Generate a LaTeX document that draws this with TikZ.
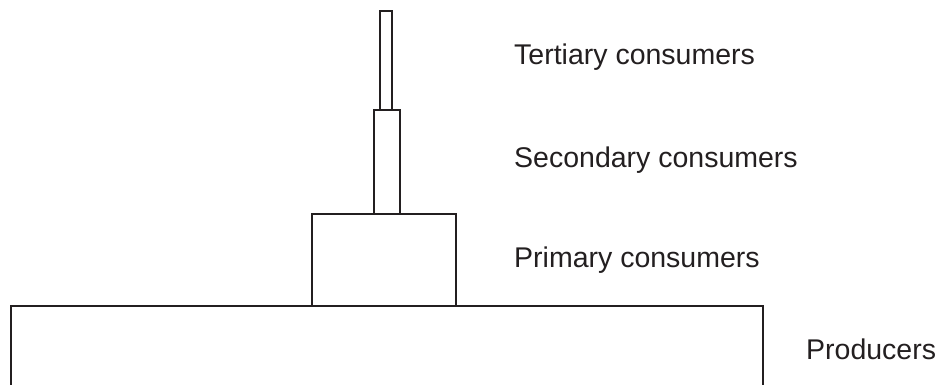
\documentclass[tikz,border=0pt]{standalone}
\usepackage{fontspec}
\setmainfont{Liberation Sans}
\definecolor{ink}{HTML}{231F20}
\tikzset{
    level/.style={draw=ink, line width=2pt},
    label/.style={anchor=base west, inner sep=0pt, text=ink, font=\fontsize{28.5}{34}\selectfont}
}
\begin{document}
\begin{tikzpicture}[x=1pt, y=-1pt]
        \useasboundingbox (0,0) rectangle (942,385);

        % producers (runs off the bottom)
        \draw[level] (10.5,385) -- (10.5,306) -- (763,306) -- (763,385);
        \node[label] (prod) at (806,359) {Producers};

        % primary consumers
        \draw[level] (311.5,214) rectangle (456,306);
        \node[label] (prim) at (514,267) {Primary consumers};

        % secondary consumers
        \draw[level] (374,110) rectangle (400,214);
        \node[label] (sec) at (514,167) {Secondary consumers};

        % tertiary consumers
        \draw[level] (380,11) rectangle (392,110);
        \node[label] (tert) at (514,65) {Tertiary consumers};

    \end{tikzpicture}
\end{document}
